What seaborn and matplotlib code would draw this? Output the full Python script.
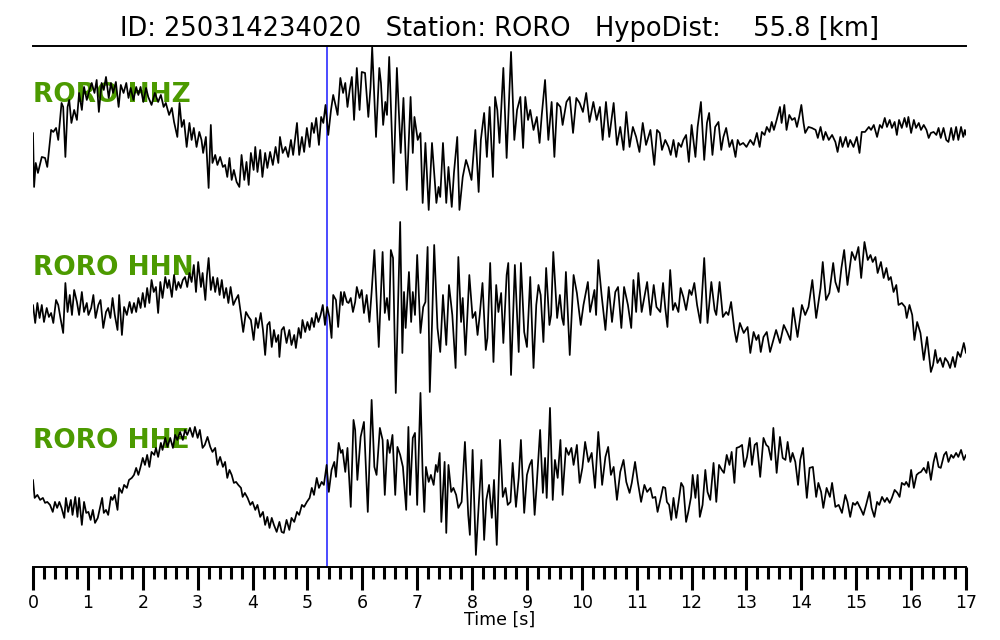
import numpy as np
import pandas as pd
import matplotlib
matplotlib.use("Agg")
import matplotlib.pyplot as plt
from matplotlib.ticker import MultipleLocator
import seaborn as sns

# Cabecera del evento
event_id = "250314234020"
station = "RORO"
hypo_dist = 55.8
channels = ["HHZ", "HHN", "HHE"]
p_pick = 5.35  # s

# Trazas digitalizadas: (tiempo [s], cuentas)
hhz = [(0.00,-5),(0.02,-59),(0.05,-35),(0.09,-45),(0.16,-29),(0.22,-30),(0.26,-39),(0.33,-2),(0.37,-4),(0.42,0),
       (0.46,-12),(0.52,25),(0.55,21),(0.59,-29),(0.63,21),(0.66,28),(0.70,5),(0.75,18),(0.80,8),(0.84,35),
       (0.89,18),(0.93,41),(0.98,28),(1.03,38),(1.07,45),(1.12,35),(1.16,48),(1.20,16),(1.25,45),(1.29,38),
       (1.33,51),(1.38,30),(1.42,45),(1.46,35),(1.51,46),(1.56,21),(1.60,43),(1.65,35),(1.70,45),(1.74,30),
       (1.78,40),(1.83,28),(1.88,41),(1.92,33),(1.96,41),(2.01,26),(2.06,40),(2.10,31),(2.16,23),(2.22,35),
       (2.28,26),(2.33,33),(2.38,21),(2.42,25),(2.48,13),(2.53,20),(2.57,6),(2.63,-9),(2.67,25),(2.71,1),
       (2.75,8),(2.80,-19),(2.85,5),(2.89,-12),(2.93,0),(2.98,-19),(3.03,-4),(3.07,-12),(3.10,-25),(3.15,-9),
       (3.20,-60),(3.24,3),(3.27,-35),(3.32,-27),(3.36,-37),(3.41,-29),(3.46,-39),(3.50,-37),(3.54,-49),(3.58,-30),
       (3.62,-52),(3.66,-42),(3.71,-54),(3.76,-59),(3.80,-27),(3.85,-52),(3.89,-34),(3.93,-57),(3.97,-25),(4.02,-42),
       (4.05,-19),(4.09,-44),(4.14,-22),(4.18,-49),(4.23,-25),(4.27,-40),(4.32,-24),(4.37,-37),(4.42,-19),(4.47,-35),
       (4.50,-9),(4.55,-25),(4.60,-19),(4.65,-29),(4.70,-12),(4.74,-27),(4.81,5),(4.85,-27),(4.90,-9),(4.94,-24),
       (4.99,0),(5.04,-19),(5.08,5),(5.12,-5),(5.16,10),(5.21,-17),(5.25,11),(5.29,5),(5.33,23),(5.38,-7),
       (5.43,18),(5.47,33),(5.52,21),(5.55,13),(5.60,50),(5.65,35),(5.69,45),(5.73,21),(5.77,38),(5.81,51),
       (5.85,8),(5.90,60),(5.95,18),(5.99,56),(6.05,55),(6.11,11),(6.15,41),(6.18,81),(6.25,-9),(6.31,60),
       (6.34,45),(6.38,3),(6.42,26),(6.45,13),(6.49,71),(6.57,-55),(6.63,60),(6.70,-25),(6.75,30),(6.81,-62),
       (6.88,31),(6.92,-25),(6.95,11),(7.01,-12),(7.06,-5),(7.10,-75),(7.15,-15),(7.21,-82),(7.27,-15),(7.35,-75),
       (7.39,-59),(7.42,-69),(7.47,-15),(7.53,-75),(7.57,-39),(7.63,-79),(7.67,-45),(7.73,-9),(7.77,-82),(7.83,-49),
       (7.89,-32),(7.93,-39),(7.99,-52),(8.06,-2),(8.12,-64),(8.16,-12),(8.22,15),(8.27,-29),(8.32,21),(8.38,-49),
       (8.42,31),(8.46,18),(8.50,-15),(8.57,60),(8.63,-30),(8.71,76),(8.77,-12),(8.82,18),(8.88,31),(8.93,-20),
       (8.97,31),(9.02,8),(9.06,18),(9.12,-2),(9.18,11),(9.23,-15),(9.27,13),(9.33,48),(9.39,-12),(9.45,26),
       (9.50,-29),(9.55,25),(9.61,21),(9.65,3),(9.72,26),(9.78,31),(9.84,-5),(9.90,30),(9.96,25),(10.02,16),
       (10.08,35),(10.14,6),(10.21,26),(10.27,8),(10.33,21),(10.38,-12),(10.44,26),(10.50,-9),(10.58,25),(10.64,-17),
       (10.70,1),(10.76,-22),(10.81,16),(10.87,-19),(10.93,1),(10.99,-9),(11.05,-24),(11.11,5),(11.17,-17),(11.25,-2),
       (11.32,-37),(11.37,-2),(11.42,-5),(11.46,-22),(11.52,-12),(11.58,-19),(11.62,-27),(11.67,-12),(11.72,-29),(11.76,-15),
       (11.81,-19),(11.85,-12),(11.90,-7),(11.95,-34),(12.00,3),(12.07,-29),(12.11,1),(12.17,26),(12.23,-32),(12.28,5),
       (12.32,15),(12.38,-27),(12.43,1),(12.49,6),(12.54,-22),(12.58,-9),(12.63,0),(12.69,-19),(12.74,-12),(12.80,-29),
       (12.84,-12),(12.88,-17),(12.94,-15),(13.00,-19),(13.07,-12),(13.13,-17),(13.19,-5),(13.24,-19),(13.28,-4),(13.33,-7),
       (13.37,1),(13.42,-4),(13.46,6),(13.50,-2),(13.55,8),(13.61,21),(13.64,5),(13.69,23),(13.73,-2),(13.78,13),
       (13.83,8),(13.88,10),(13.92,1),(13.96,11),(14.00,23),(14.04,5),(14.07,-5),(14.13,1),(14.19,0),(14.26,-2),
       (14.30,-10),(14.35,1),(14.40,-12),(14.44,-4),(14.50,-12),(14.56,-7),(14.62,-14),(14.66,-24),(14.71,-9),(14.75,-19),
       (14.81,-9),(14.85,-19),(14.89,-12),(14.95,-19),(15.01,-9),(15.06,-25),(15.10,-4),(15.16,-4),(15.23,1),(15.27,-2),
       (15.32,3),(15.38,-9),(15.43,3),(15.47,0),(15.52,10),(15.56,1),(15.61,8),(15.65,0),(15.70,6),(15.74,-7),
       (15.78,8),(15.83,0),(15.88,10),(15.92,1),(15.95,11),(16.00,-5),(16.05,8),(16.09,0),(16.14,5),(16.18,-2),
       (16.23,3),(16.28,-2),(16.32,-10),(16.36,-5),(16.41,-4),(16.46,-7),(16.50,0),(16.54,-10),(16.59,0),(16.64,-12),
       (16.68,-14),(16.73,0),(16.77,-12),(16.82,1),(16.86,-12),(16.91,1),(16.95,-9),(16.98,-2),(17.00,-7)]

hhn = [(0.00,2),(0.04,-16),(0.08,4),(0.12,-11),(0.16,2),(0.20,-15),(0.25,-1),(0.29,-10),(0.33,-6),(0.37,-16),
       (0.42,7),(0.46,2),(0.50,-11),(0.55,-26),(0.59,24),(0.63,-5),(0.67,12),(0.71,-8),(0.75,17),(0.80,5),
       (0.84,-8),(0.89,15),(0.93,-5),(0.98,4),(1.01,-8),(1.06,-1),(1.10,12),(1.14,-11),(1.19,2),(1.23,7),
       (1.28,-21),(1.33,-5),(1.37,-1),(1.41,-11),(1.45,9),(1.49,-8),(1.54,-23),(1.57,12),(1.62,-28),(1.66,0),
       (1.71,-8),(1.76,5),(1.80,-6),(1.84,4),(1.88,-5),(1.92,9),(1.96,-1),(2.00,14),(2.04,0),(2.08,19),
       (2.12,4),(2.16,27),(2.20,15),(2.24,20),(2.28,-6),(2.32,25),(2.36,9),(2.41,30),(2.45,19),(2.48,27),
       (2.53,10),(2.57,32),(2.61,17),(2.65,25),(2.69,19),(2.73,27),(2.77,30),(2.81,20),(2.85,34),(2.89,25),
       (2.93,42),(2.97,15),(3.01,45),(3.06,20),(3.09,34),(3.14,7),(3.17,32),(3.20,49),(3.24,17),(3.28,30),
       (3.32,15),(3.36,29),(3.40,12),(3.44,27),(3.48,9),(3.52,19),(3.56,4),(3.60,20),(3.65,2),(3.69,7),
       (3.74,12),(3.79,-8),(3.83,-25),(3.88,-5),(3.93,-10),(3.97,-13),(4.02,-33),(4.06,-11),(4.10,-21),(4.15,-6),
       (4.19,-23),(4.23,-48),(4.27,-18),(4.31,-15),(4.35,-40),(4.39,-23),(4.43,-35),(4.47,-28),(4.49,-50),(4.53,-23),
       (4.57,-20),(4.62,-36),(4.67,-23),(4.71,-38),(4.76,-28),(4.79,-41),(4.84,-21),(4.88,-31),(4.91,-13),(4.96,-25),
       (5.00,-15),(5.04,-23),(5.08,-11),(5.12,-20),(5.16,-6),(5.20,-15),(5.24,-8),(5.28,2),(5.32,-18),(5.36,0),
       (5.40,-10),(5.44,-31),(5.47,12),(5.52,7),(5.56,-20),(5.61,15),(5.64,2),(5.67,15),(5.72,5),(5.75,4),
       (5.79,9),(5.83,-5),(5.87,5),(5.90,20),(5.95,9),(5.99,17),(6.03,-6),(6.08,12),(6.13,-15),(6.17,15),
       (6.22,57),(6.26,9),(6.30,-40),(6.37,55),(6.41,-6),(6.45,9),(6.49,-13),(6.52,57),(6.56,49),(6.61,-86),
       (6.69,85),(6.73,-46),(6.76,15),(6.79,-21),(6.85,35),(6.89,-15),(6.92,15),(6.96,-8),(7.00,52),(7.06,-26),
       (7.11,0),(7.15,5),(7.19,60),(7.23,-85),(7.27,-18),(7.31,62),(7.37,-21),(7.42,-45),(7.47,12),(7.53,-38),
       (7.58,22),(7.64,-8),(7.70,-61),(7.75,50),(7.80,-15),(7.83,9),(7.88,-48),(7.95,32),(8.01,-11),(8.06,-5),
       (8.10,-28),(8.14,-8),(8.19,24),(8.25,-43),(8.28,-31),(8.33,44),(8.39,-55),(8.44,22),(8.48,-5),(8.53,14),
       (8.57,-36),(8.63,32),(8.66,44),(8.71,-68),(8.78,42),(8.85,-45),(8.89,44),(8.95,-25),(9.00,-40),(9.06,30),
       (9.12,-61),(9.17,2),(9.21,22),(9.25,12),(9.30,-35),(9.35,39),(9.41,-18),(9.44,-8),(9.48,55),(9.55,-11),
       (9.60,12),(9.64,-11),(9.67,-18),(9.71,35),(9.78,-48),(9.85,32),(9.91,14),(9.98,-18),(10.03,2),(10.11,25),
       (10.15,-5),(10.23,17),(10.26,-8),(10.30,47),(10.36,12),(10.43,-23),(10.49,20),(10.55,-15),(10.61,15),(10.66,20),
       (10.72,-21),(10.77,20),(10.84,2),(10.90,-21),(10.94,27),(10.99,-5),(11.03,34),(11.09,-5),(11.19,25),(11.25,-8),
       (11.31,22),(11.36,0),(11.43,-5),(11.48,24),(11.52,-1),(11.56,-20),(11.61,37),(11.66,-3),(11.70,4),(11.76,-5),
       (11.80,19),(11.85,10),(11.90,-3),(11.96,17),(12.00,12),(12.05,24),(12.10,2),(12.16,-16),(12.23,49),(12.29,-16),
       (12.36,25),(12.42,-3),(12.45,-8),(12.51,25),(12.57,-10),(12.63,-5),(12.67,-8),(12.72,5),(12.78,-23),(12.82,-35),
       (12.88,-16),(12.95,-26),(13.02,-20),(13.07,-46),(13.13,-25),(13.18,-33),(13.22,-28),(13.26,-45),(13.31,-30),(13.37,-25),
       (13.43,-45),(13.48,-35),(13.54,-23),(13.61,-36),(13.68,-18),(13.74,-25),(13.80,-33),(13.85,-1),(13.93,-30),(14.01,2),
       (14.07,-8),(14.13,0),(14.20,27),(14.27,-11),(14.35,19),(14.39,45),(14.45,7),(14.51,14),(14.58,44),(14.62,25),
       (14.68,15),(14.73,39),(14.78,57),(14.84,22),(14.92,55),(14.98,47),(15.04,60),(15.09,29),(15.15,65),(15.21,47),
       (15.26,52),(15.30,45),(15.35,50),(15.39,34),(15.45,45),(15.50,29),(15.55,39),(15.59,27),(15.63,30),(15.68,15),
       (15.73,22),(15.77,2),(15.83,4),(15.89,0),(15.92,-11),(15.97,2),(16.02,-8),(16.06,-33),(16.11,-15),(16.17,-26),
       (16.23,-53),(16.29,-30),(16.36,-65),(16.40,-58),(16.44,-43),(16.48,-56),(16.53,-51),(16.58,-60),(16.62,-51),(16.67,-55),
       (16.71,-61),(16.76,-50),(16.80,-60),(16.85,-45),(16.90,-50),(16.96,-36),(17.00,-46)]

hhe = [(0.00,-6),(0.03,-24),(0.08,-21),(0.13,-26),(0.18,-24),(0.22,-29),(0.26,-28),(0.31,-31),(0.36,-38),(0.40,-28),
       (0.44,-34),(0.48,-28),(0.52,-34),(0.57,-44),(0.60,-24),(0.64,-38),(0.69,-26),(0.72,-41),(0.77,-23),(0.81,-43),
       (0.84,-24),(0.89,-51),(0.93,-28),(0.97,-39),(1.01,-38),(1.05,-46),(1.09,-36),(1.13,-49),(1.18,-44),(1.22,-34),
       (1.26,-24),(1.29,-39),(1.33,-36),(1.37,-41),(1.42,-23),(1.45,-26),(1.49,-21),(1.54,-36),(1.57,-14),(1.62,-19),
       (1.66,-11),(1.71,-14),(1.75,-6),(1.80,-4),(1.84,-1),(1.88,6),(1.92,-1),(1.96,7),(2.00,16),(2.04,9),
       (2.08,19),(2.12,7),(2.16,22),(2.21,19),(2.24,26),(2.28,17),(2.33,31),(2.36,24),(2.41,36),(2.45,27),
       (2.50,36),(2.55,26),(2.59,39),(2.63,34),(2.68,42),(2.73,34),(2.77,44),(2.81,39),(2.86,46),(2.91,37),
       (2.95,47),(3.00,36),(3.04,44),(3.09,26),(3.13,29),(3.18,37),(3.23,27),(3.27,22),(3.32,26),(3.36,9),
       (3.41,17),(3.46,7),(3.50,12),(3.54,-4),(3.58,4),(3.62,-1),(3.66,-9),(3.70,-8),(3.74,-11),(3.79,-14),
       (3.82,-23),(3.86,-19),(3.91,-24),(3.96,-31),(4.00,-28),(4.05,-36),(4.09,-31),(4.14,-43),(4.19,-38),(4.23,-51),
       (4.27,-43),(4.31,-54),(4.35,-44),(4.39,-51),(4.44,-58),(4.49,-48),(4.53,-58),(4.57,-59),(4.62,-46),(4.67,-56),
       (4.71,-44),(4.76,-48),(4.81,-38),(4.85,-41),(4.90,-31),(4.94,-33),(4.99,-28),(5.04,-24),(5.08,-14),(5.12,-21),
       (5.17,-4),(5.21,-14),(5.26,-8),(5.30,-11),(5.35,9),(5.39,-18),(5.44,4),(5.49,12),(5.52,-3),(5.57,31),
       (5.61,21),(5.64,24),(5.69,2),(5.73,26),(5.79,-33),(5.84,54),(5.87,44),(5.91,-6),(5.97,37),(6.03,52),
       (6.10,-38),(6.17,74),(6.22,7),(6.26,-1),(6.32,46),(6.37,34),(6.41,-21),(6.46,34),(6.50,21),(6.55,39),
       (6.60,-21),(6.64,27),(6.69,19),(6.74,7),(6.80,-36),(6.84,47),(6.87,-21),(6.92,36),(6.96,41),(7.00,-31),
       (7.06,81),(7.10,-1),(7.13,-38),(7.16,7),(7.21,-8),(7.25,-1),(7.30,-11),(7.34,9),(7.37,2),(7.41,21),
       (7.44,-48),(7.50,12),(7.53,-59),(7.57,9),(7.62,-18),(7.66,-14),(7.71,-21),(7.75,-34),(7.81,-28),(7.87,32),
       (7.93,-41),(7.96,-61),(8.01,24),(8.07,-81),(8.10,-51),(8.17,14),(8.22,-66),(8.26,-26),(8.31,-11),(8.36,-44),
       (8.40,-6),(8.45,-71),(8.51,34),(8.56,-23),(8.61,-14),(8.65,-31),(8.70,-28),(8.74,11),(8.80,-33),(8.85,-4),
       (8.89,34),(8.95,-39),(9.00,-1),(9.05,9),(9.09,14),(9.14,-41),(9.18,-9),(9.24,44),(9.29,-19),(9.33,16),
       (9.36,-24),(9.42,66),(9.47,-26),(9.51,14),(9.56,-4),(9.61,34),(9.65,-21),(9.71,26),(9.76,19),(9.81,26),
       (9.85,9),(9.91,29),(9.96,-9),(10.01,6),(10.06,32),(10.12,12),(10.18,21),(10.24,-14),(10.30,42),(10.37,-11),
       (10.43,17),(10.48,27),(10.53,-1),(10.58,7),(10.64,-26),(10.70,2),(10.76,14),(10.81,-8),(10.87,-19),(10.91,-9),
       (10.97,12),(11.02,-8),(11.08,-28),(11.14,-11),(11.19,-18),(11.25,-14),(11.29,-24),(11.34,-23),(11.38,-38),(11.43,-26),
       (11.48,-13),(11.52,-14),(11.55,-28),(11.59,-31),(11.63,-46),(11.67,-24),(11.72,-44),(11.76,-29),(11.81,-9),(11.85,-13),
       (11.90,-48),(11.94,-38),(11.99,-23),(12.02,-1),(12.07,-24),(12.11,-1),(12.15,-43),(12.20,-31),(12.25,4),(12.29,-18),
       (12.34,-26),(12.40,11),(12.45,-28),(12.50,9),(12.55,4),(12.59,1),(12.64,19),(12.69,9),(12.73,22),(12.78,-9),
       (12.82,26),(12.87,27),(12.92,29),(12.96,7),(13.01,17),(13.06,36),(13.10,9),(13.15,29),(13.19,31),(13.25,-3),
       (13.31,36),(13.36,29),(13.40,27),(13.45,14),(13.49,46),(13.55,1),(13.61,37),(13.66,16),(13.71,14),(13.75,32),
       (13.80,12),(13.84,21),(13.89,12),(13.94,-11),(13.98,14),(14.03,26),(14.07,-4),(14.10,-24),(14.15,6),(14.21,7),
       (14.27,-23),(14.31,-9),(14.36,-18),(14.40,-34),(14.46,-14),(14.52,-23),(14.56,-9),(14.62,-33),(14.68,-31),(14.74,-39),
       (14.80,-21),(14.84,-28),(14.89,-43),(14.94,-29),(14.98,-31),(15.02,-28),(15.09,-36),(15.13,-41),(15.18,-31),(15.24,-18),
       (15.28,-34),(15.33,-43),(15.38,-28),(15.42,-31),(15.47,-23),(15.52,-28),(15.56,-24),(15.61,-29),(15.65,-24),(15.70,-16),
       (15.75,-19),(15.79,-23),(15.83,-9),(15.88,-11),(15.91,-8),(15.96,-13),(16.00,4),(16.05,-14),(16.10,-1),(16.14,1),
       (16.18,2),(16.23,6),(16.28,1),(16.31,12),(16.36,-6),(16.41,12),(16.45,21),(16.50,7),(16.54,6),(16.60,19),
       (16.64,22),(16.68,12),(16.73,19),(16.77,16),(16.82,21),(16.86,17),(16.91,24),(16.96,14),(17.00,19)]

# Construir tabla larga
frames = []
for cha, trace in zip(channels, [hhz, hhn, hhe]):
    df = pd.DataFrame(trace, columns=["time", "counts"])
    df["channel"] = cha
    frames.append(df)
data = pd.concat(frames, ignore_index=True)

# Separación vertical entre trazas
gain = 173.0
offsets = {"HHZ": 0.0, "HHN": -1.035, "HHE": -2.0}
label_slot = {"HHZ": 0.0, "HHN": -1.0, "HHE": -2.0}
data["y"] = data["counts"] / gain + data["channel"].map(offsets)

sns.set_theme(style="white")
plt.rcParams["font.family"] = ["DejaVu Sans"]
plt.rcParams["text.color"] = "black"
plt.rcParams["axes.labelcolor"] = "black"
plt.rcParams["xtick.color"] = "black"

fig = plt.figure(figsize=(10, 6.4), dpi=100)
ax = fig.add_axes([0.033, 0.1141, 0.933, 0.8141])

ax.axvline(p_pick, color="#1a1aff", lw=1.1, zorder=1)

for cha in channels:
    sub = data[data["channel"] == cha]
    sns.lineplot(data=sub, x="time", y="y", ax=ax, color="black", lw=1.25,
                 estimator=None, sort=False, zorder=3)
    ax.text(0.0, label_slot[cha] + 0.152, f"{station} {cha}", color="#4c9a00",
            fontsize=19, fontweight="bold", ha="left", va="baseline", zorder=2)

ax.set_xlim(0, 17)
ax.set_ylim(-2.538, 0.474)
ax.set_yticks([])
ax.set_ylabel("")
ax.set_xticks(range(18))
ax.xaxis.set_minor_locator(MultipleLocator(0.2))
ax.tick_params(axis="x", which="major", direction="out", length=16.5, width=2.2,
               labelsize=12.5, pad=3, colors="black", bottom=True)
ax.tick_params(axis="x", which="minor", direction="out", length=8.5, width=2.2,
               colors="black", bottom=True)
ax.set_xlabel("Time [s]", fontsize=12.5, labelpad=-1)

for side in ["left", "right"]:
    ax.spines[side].set_visible(False)
for side in ["top", "bottom"]:
    ax.spines[side].set_visible(True)
    ax.spines[side].set_color("black")
    ax.spines[side].set_linewidth(1.4)

fig.text(0.5, 1 - 36 / 640,
         f"ID: {event_id}   Station: {station}   HypoDist:    {hypo_dist} [km]",
         ha="center", va="baseline", fontsize=18.5, color="black")

fig.savefig("out.png", dpi=100)
